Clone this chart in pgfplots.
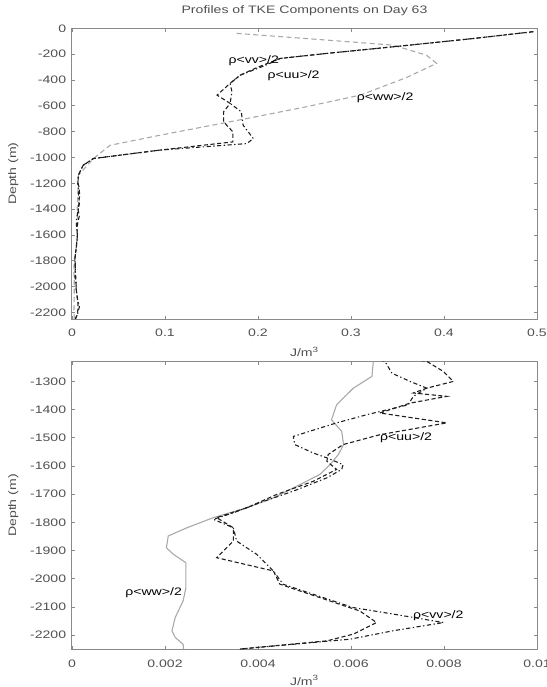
\documentclass[border=0pt]{standalone}
\usepackage{fontspec}
\setmainfont{Liberation Sans}[FakeStretch=1.3]
\usepackage{pgfplots}
\pgfplotsset{compat=1.18}
\usepackage{pgfplotstable}
\definecolor{txt}{HTML}{505050}
\definecolor{axc}{HTML}{8A8A8A}
\definecolor{dk}{HTML}{1E1E1E}
\definecolor{lg}{HTML}{A8A8A8}

\pgfplotstableread{
x y
0.496 -26
0.430 -80
0.363 -130
0.274 -194
0.224 -233
0.200 -300
0.181 -362
0.170 -426
0.156 -517
0.170 -581
0.163 -646
0.163 -724
0.173 -801
0.173 -879
0.094 -943
0.023 -1008
0.012 -1060
0.0068 -1137
0.0065 -1202
0.00763 -1229
0.00799 -1265
0.00820 -1300
0.00763 -1324
0.00734 -1341
0.00806 -1353
0.00727 -1377
0.00662 -1412
0.00806 -1447
0.00662 -1489
0.00583 -1524
0.00551 -1559
0.00548 -1583
0.00569 -1612
0.00519 -1654
0.00440 -1701
0.00376 -1748
0.00311 -1783
0.00347 -1819
0.00347 -1866
0.00311 -1925
0.00433 -1972
0.00447 -2019
0.00512 -2055
0.00619 -2114
0.00655 -2155
0.00605 -2196
0.00548 -2220
0.00361 -2249
}\tabU

\pgfplotstableread{
x y
0.496 -26
0.430 -80
0.363 -130
0.274 -194
0.224 -233
0.209 -284
0.181 -362
0.170 -426
0.172 -491
0.170 -581
0.182 -646
0.184 -750
0.195 -853
0.188 -892
0.094 -943
0.023 -1008
0.012 -1060
0.0068 -1137
0.0062 -1202
0.00673 -1229
0.00688 -1271
0.00727 -1300
0.00763 -1324
0.00734 -1353
0.00723 -1383
0.00634 -1418
0.00569 -1447
0.00476 -1495
0.00479 -1524
0.00519 -1554
0.00548 -1571
0.00583 -1595
0.00580 -1612
0.00548 -1642
0.00476 -1689
0.00404 -1730
0.00347 -1766
0.00304 -1789
0.00347 -1819
0.00354 -1866
0.00397 -1913
0.00433 -1972
0.00454 -2019
0.00519 -2055
0.00605 -2102
0.00691 -2125
0.00799 -2155
0.00691 -2184
0.00598 -2214
0.00476 -2232
0.00361 -2249
}\tabV

\pgfplotstableread{
x y
0.177 -39
0.274 -91
0.345 -130
0.381 -207
0.392 -271
0.360 -380
0.310 -517
0.250 -610
0.188 -698
0.095 -827
0.041 -905
0.023 -1008
0.0068 -1137
0.00648 -1229
0.00645 -1282
0.00605 -1324
0.00569 -1383
0.00558 -1436
0.00580 -1477
0.00584 -1524
0.00573 -1559
0.00555 -1595
0.00533 -1630
0.00490 -1666
0.00433 -1713
0.00376 -1748
0.00304 -1783
0.00247 -1819
0.00207 -1848
0.00203 -1890
0.00218 -1913
0.00245 -1943
0.00245 -2031
0.00239 -2078
0.00222 -2137
0.00215 -2184
0.00222 -2208
0.00239 -2232
0.00240 -2249
}\tabW

\newcommand\tfont{\fontsize{6.5}{7.5}\selectfont}

\pgfplotsset{mystyle/.style={
  scale only axis, width=279pt,
  axis line style={axc, line width=0.6pt},
  tick style={axc, line width=0.5pt}, major tick length=2pt,
  tick label style={txt, font=\tfont},
  xticklabel style={anchor=base, yshift=-10.6pt},
  yticklabel style={anchor=east},
  label style={txt, font=\tfont},
  ylabel style={at={(axis description cs:-0.126,0.5)}, rotate=0, anchor=center},
  xlabel style={at={(axis description cs:0.5,0)}, anchor=base},
  ymin=-2250,
}}

\begin{document}
\begin{tikzpicture}
\path[use as bounding box] (0,0) rectangle (328.2pt,-412.2pt);

\begin{axis}[mystyle,
  at={(43.2pt,-17pt)}, anchor=north west, height=174.4pt,
  xmin=0, xmax=0.5, ymax=0,
  xtick={0,0.1,0.2,0.3,0.4,0.5},
  xticklabels={0,0.1,0.2,0.3,0.4,0.5},
  ytick={-2200,-2000,-1800,-1600,-1400,-1200,-1000,-800,-600,-400,-200,0},
  yticklabels={-2200,-2000,-1800,-1600,-1400,-1200,-1000,-800,-600,-400,-200,0},
  title={Profiles of TKE Components on Day 63},
  title style={txt, font=\tfont, at={(0.5,1)}, anchor=base, yshift=3pt},
  xlabel={J/m\textsuperscript{3}},
  xlabel style={yshift=-22.6pt},
  ylabel={Depth (m)},
]
\addplot[lg, line width=0.65pt, dash pattern=on 3pt off 2pt] table {\tabW};
\addplot[dk, line width=0.65pt, dash pattern=on 2.5pt off 1.5pt] table {\tabU};
\addplot[dk, line width=0.65pt, dash pattern=on 2.5pt off 1.5pt on 0.8pt off 1.5pt] table {\tabV};
\node[anchor=west, font=\tfont, inner sep=0pt] at (axis cs:0.168,-250) {ρ<vv>/2};
\node[anchor=west, font=\tfont, inner sep=0pt] at (axis cs:0.210,-365) {ρ<uu>/2};
\node[anchor=west, font=\tfont, inner sep=0pt] at (axis cs:0.306,-540) {ρ<ww>/2};
\end{axis}

\begin{axis}[mystyle,
  at={(43.2pt,-217pt)}, anchor=north west, height=172.6pt,
  xmin=0, xmax=0.01, ymax=-1230,
  restrict y to domain=-2300:-1150,
  xtick={0,0.002,0.004,0.006,0.008,0.01},
  xticklabels={0,0.002,0.004,0.006,0.008,0.01},
  scaled x ticks=false,
  ytick={-2200,-2100,-2000,-1900,-1800,-1700,-1600,-1500,-1400,-1300},
  yticklabels={-2200,-2100,-2000,-1900,-1800,-1700,-1600,-1500,-1400,-1300},
  xlabel={J/m\textsuperscript{3}},
  xlabel style={yshift=-21.4pt},
  ylabel={Depth (m)},
]
\addplot[lg, line width=0.65pt] table {\tabW};
\addplot[dk, line width=0.65pt, dash pattern=on 2.5pt off 1.5pt] table {\tabU};
\addplot[dk, line width=0.65pt, dash pattern=on 2.5pt off 1.5pt on 0.8pt off 1.5pt] table {\tabV};
\node[anchor=west, font=\tfont, inner sep=0pt] at (axis cs:0.00662,-1500) {ρ<uu>/2};
\node[anchor=west, font=\tfont, inner sep=0pt] at (axis cs:0.00733,-2131) {ρ<vv>/2};
\node[anchor=west, font=\tfont, inner sep=0pt] at (axis cs:0.00114,-2049) {ρ<ww>/2};
\end{axis}
\end{tikzpicture}
\end{document}
